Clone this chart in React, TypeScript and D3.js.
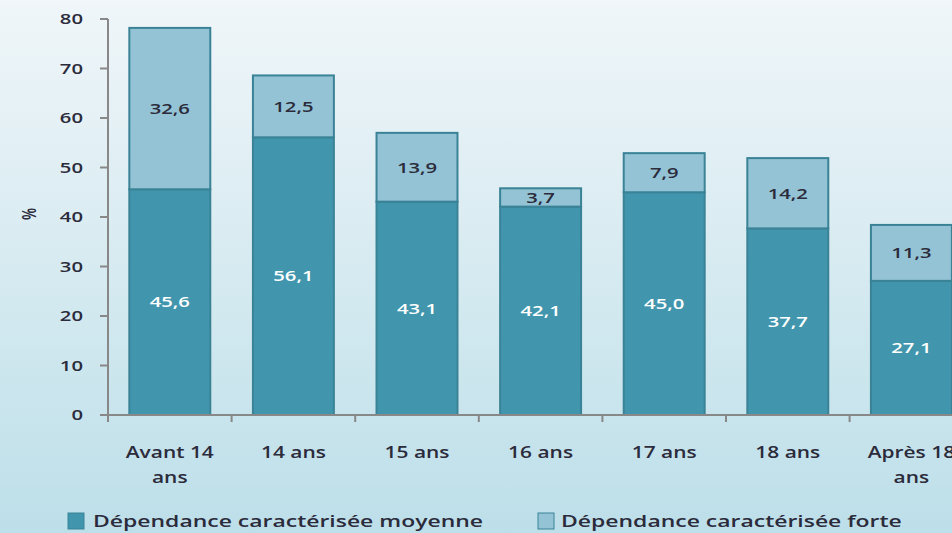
import React from "react";
import * as d3 from "d3";

const categories = ["Avant 14|ans", "14 ans", "15 ans", "16 ans", "17 ans", "18 ans", "Après 18|ans"];
const moyenne = [45.6, 56.1, 43.1, 42.1, 45.0, 37.7, 27.1];
const forte = [32.6, 12.5, 13.9, 3.7, 7.9, 14.2, 11.3];
const yTicks = [0, 10, 20, 30, 40, 50, 60, 70, 80];
const seriesNames = ["Dépendance caractérisée moyenne", "Dépendance caractérisée forte"];

const W = 952, H = 533;
const DARK = "#4196ad";
const LIGHT = "#93c3d4";
const STROKE = "#3a8397";
const FONT = "'Open Sans', sans-serif";
const SX = 1.35;

function T(props: { x: number; y: number; anchor?: string; size?: number; fill?: string; children: React.ReactNode }) {
  const { x, y, anchor = "middle", size = 16, fill = "#2b2b3b", children } = props;
  return (
    <text transform={`translate(${x},${y}) scale(${SX},1)`} dy="0.35em" textAnchor={anchor} fontFamily={FONT} fontWeight={600} fontSize={size} fill={fill}>
      {children}
    </text>
  );
}

export default function App() {
  const x = d3.scaleBand<number>().domain(categories.map((_, i) => i)).range([108, 108 + 123.6 * 7]).paddingInner(0.345).paddingOuter(0.1725);
  const y = d3.scaleLinear().domain([0, 80]).range([415, 19]);
  const step = x.step();
  const fmt = (v: number) => v.toFixed(1).replace(".", ",");
  return (
    <div style={{ position: "absolute", left: 0, top: 0, width: W, height: H }}>
      <svg width={W} height={H} style={{ display: "block" }}>
        <defs>
          <linearGradient id="bg" x1="0" y1="0" x2="0" y2="1">
            <stop offset="0" stopColor="#f0f6f9" />
            <stop offset="1" stopColor="#bddfe9" />
          </linearGradient>
        </defs>
        <rect x={0} y={0} width={W} height={H} fill="url(#bg)" />
        {/* y axis */}
        <line x1={108} x2={108} y1={y(80)} y2={y(0)} stroke="#888" strokeWidth={2} />
        {yTicks.map((t) => (
          <g key={t}>
            <line x1={100} x2={108} y1={y(t)} y2={y(t)} stroke="#888" strokeWidth={2} />
            <T x={83} y={y(t)} anchor="end" size={15}>{t}</T>
          </g>
        ))}
        <text transform={`translate(29,${y(40) - 3}) rotate(-90) scale(1,${SX})`} textAnchor="middle" dy="0.35em" fontFamily={FONT} fontWeight={600} fontSize={14} fill="#2b2b3b">%</text>
        {/* bars */}
        {categories.map((c, i) => {
          const x0 = x(i)!;
          const bw = x.bandwidth();
          const m = moyenne[i], f = forte[i];
          return (
            <g key={c}>
              <rect x={x0} y={y(m)} width={bw} height={y(0) - y(m)} fill={DARK} stroke={STROKE} strokeWidth={2} />
              <rect x={x0} y={y(m + f)} width={bw} height={y(m) - y(m + f)} fill={LIGHT} stroke={STROKE} strokeWidth={2} />
              <T x={x0 + bw / 2} y={y(m / 2)} size={15} fill="#fff">{fmt(m)}</T>
              <T x={x0 + bw / 2} y={y(m + f / 2)} size={15}>{fmt(f)}</T>
            </g>
          );
        })}
        {/* x axis */}
        <line x1={108} x2={W} y1={y(0)} y2={y(0)} stroke="#888" strokeWidth={2} />
        {categories.map((c, i) => {
          const tx = 108 + step * i;
          return <line key={"t" + i} x1={tx} x2={tx} y1={y(0)} y2={y(0) + 7} stroke="#888" strokeWidth={2} />;
        })}
        {categories.map((c, i) => {
          const cx = x(i)! + x.bandwidth() / 2;
          return c.split("|").map((p, k) => (
            <T key={"l" + i + "-" + k} x={cx} y={453 + k * 25} size={15.5}>{p}</T>
          ));
        })}
        {/* legend */}
        <rect x={68} y={513} width={16} height={16} fill={DARK} stroke={STROKE} strokeWidth={1} />
        <T x={93} y={521} anchor="start" size={17}>{seriesNames[0]}</T>
        <rect x={538} y={513} width={16} height={16} fill={LIGHT} stroke={STROKE} strokeWidth={1} />
        <T x={561} y={521} anchor="start" size={17}>{seriesNames[1]}</T>
      </svg>
    </div>
  );
}
